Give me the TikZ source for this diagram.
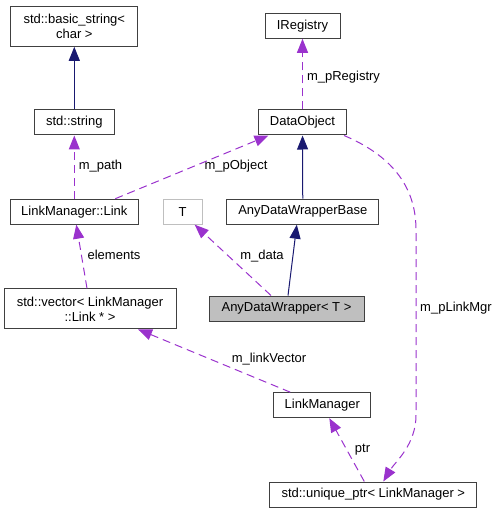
\documentclass[tikz,border=0pt]{standalone}
\usepackage{fontspec}
\setmainfont{Liberation Sans}
\definecolor{dxPurple}{HTML}{9A32CD}
\definecolor{dxNavy}{HTML}{191970}
\definecolor{dxGrey}{HTML}{BFBFBF}
\definecolor{dxBorder}{HTML}{404040}
\usetikzlibrary{arrows.meta}

\begin{document}
\begin{tikzpicture}[x=1pt, y=-1pt,
    cls/.style={draw=dxBorder, line width=1pt, rectangle, inner sep=0pt, align=center,
      font=\fontsize{13}{15}\selectfont},
    lbl/.style={font=\fontsize{13}{15}\selectfont, inner sep=0pt},
    inherit/.style={dxNavy, line width=1pt, -{Triangle[length=14pt,width=11pt]}},
    member/.style={dxPurple, line width=1pt, dash pattern=on 8pt off 5pt,
      -{Triangle[length=14pt,width=11pt]}}]
  \useasboundingbox (0,0) rectangle (497,513);
  % Classes
  \node[cls, minimum width=127pt, minimum height=40pt] (bstr) at (74.3,26.3) {std::basic\_string<\\char >};
  \node[cls, minimum width=80pt, minimum height=25pt] (str) at (74.3,122.5) {std::string};
  \node[cls, minimum width=75pt, minimum height=25pt] (ireg) at (302.5,25.8) {IRegistry};
  \node[cls, minimum width=88pt, minimum height=25pt] (dobj) at (302.5,122.5) {DataObject};
  \node[cls, minimum width=128pt, minimum height=25pt] (link) at (74.3,211.7) {LinkManager::Link};
  \node[cls, draw=dxGrey, minimum width=39pt, minimum height=25pt] (tparam) at (182.7,211.7) {T};
  \node[cls, minimum width=152pt, minimum height=25pt] (adwb) at (302.8,211.7) {AnyDataWrapperBase};
  \node[cls, minimum width=172pt, minimum height=40pt] (vec) at (90,308.8) {std::vector< LinkManager\\::Link * >};
  \node[cls, fill=dxGrey, minimum width=155pt, minimum height=25pt] (adw) at (286.5,308.5) {AnyDataWrapper< T >};
  \node[cls, minimum width=97pt, minimum height=25pt] (lmgr) at (322.3,405.2) {LinkManager};
  \node[cls, minimum width=207pt, minimum height=25pt] (uptr) at (373.3,494.5) {std::unique\_ptr< LinkManager >};
  % Inheritance
  \draw[inherit] (str) -- (bstr);
  \draw[inherit] (adwb) -- (dobj);
  \draw[inherit] ([xshift=1.5pt]adw.north) -- ([xshift=-6pt]adwb.south);
  % Members
  \draw[member] (dobj) -- (ireg);
  \draw[member] (link) -- (str);
  \draw[member] ([xshift=41pt]link.north) -- ([xshift=-34pt]dobj.south);
  \draw[member] ([xshift=-15.5pt]adw.north) -- ([xshift=12pt]tparam.south);
  \draw[member] ([xshift=-3pt]vec.north) -- ([xshift=2pt]link.south);
  \draw[member] ([xshift=-32pt]lmgr.north) -- ([xshift=48pt]vec.south);
  \draw[member] ([xshift=-9pt]uptr.north) -- ([xshift=7pt]lmgr.south);
  \draw[member] ([xshift=-3pt]dobj.south east) .. controls (390,155) and (416,185) .. (416,230)
    -- (416,415) .. controls (416,445) and (395,462) .. ([xshift=10pt]uptr.north);
  % Labels
  \node[lbl] (lregistry) at (343.5,77) {m\_pRegistry};
  \node[lbl] (lpath) at (100.5,166) {m\_path};
  \node[lbl] (lobject) at (236,166) {m\_pObject};
  \node[lbl] (lelements) at (114,255) {elements};
  \node[lbl] (ldata) at (262,256) {m\_data};
  \node[lbl] (lvector) at (269,359) {m\_linkVector};
  \node[lbl] (lmgrlbl) at (456,308) {m\_pLinkMgr};
  \node[lbl] (lptr) at (362.5,450) {ptr};
\end{tikzpicture}
\end{document}
